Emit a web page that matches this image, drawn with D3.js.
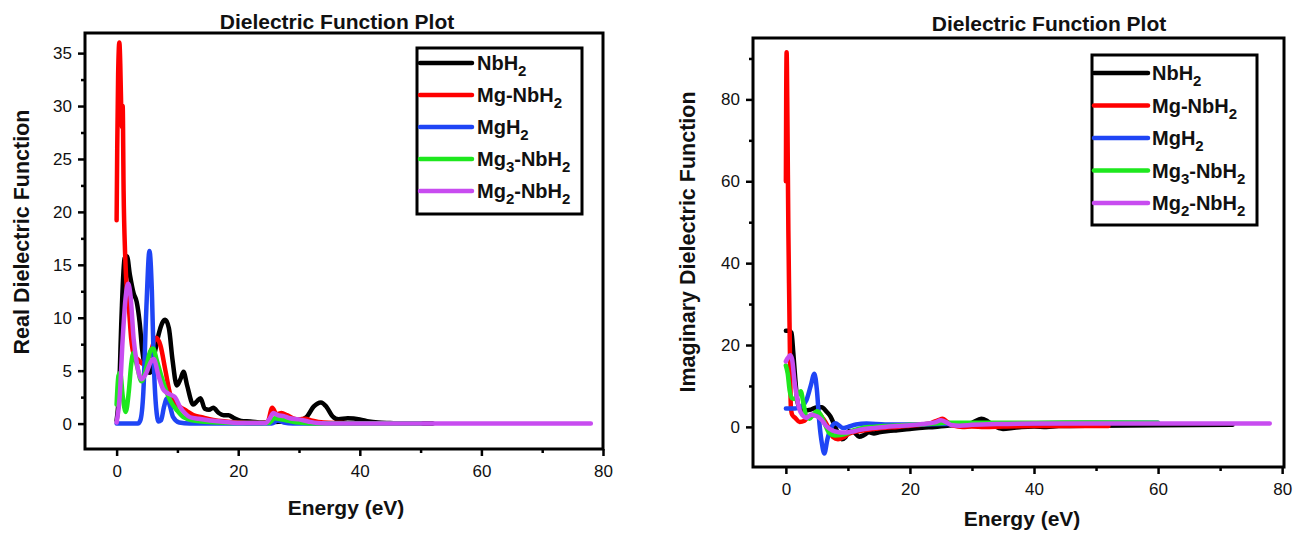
<!DOCTYPE html>
<html>
<head>
<meta charset="utf-8">
<script src="https://cdn.jsdelivr.net/npm/d3@7"></script>
<style>
  body { margin: 0; background: #fff; }
  svg { display: block; font-family: "Liberation Sans", Arial, sans-serif; }
</style>
</head>
<body>
<svg width="1296" height="533"></svg>
<script>
const seriesNames = ["NbH2", "Mg-NbH2", "MgH2", "Mg3-NbH2", "Mg2-NbH2"];
const seriesColors = ["#000000", "#ff0000", "#1f45f5", "#1ee81e", "#c84cf0"];

const xTicks = [0, 20, 40, 60, 80];
const xMinorTicks = [10, 30, 50, 70];
const realTicks = [0, 5, 10, 15, 20, 25, 30, 35];
const realMinorTicks = [2.5, 7.5, 12.5, 17.5, 22.5, 27.5, 32.5];
const imagTicks = [0, 20, 40, 60, 80];
const imagMinorTicks = [10, 30, 50, 70, 90];

// real part, [energy, value]
const realNbH2 = [[0,0.3],[0.4,3],[0.8,10],[1.3,15.6],[1.7,15.8],[2.2,14],[2.8,12.3],[3.3,11.5],[3.8,9.5],[4.2,7],[4.8,5.2],[5.5,4.8],[6.2,6.5],[6.9,8.4],[7.5,9.5],[8.0,9.8],[8.6,9],[9.2,6],[9.9,3.6],[10.5,4.2],[11.0,4.9],[11.6,3.6],[12.6,1.8],[13.2,2.1],[13.8,2.4],[14.5,1.4],[15.2,1.3],[15.9,1.5],[16.8,1.0],[17.6,0.8],[18.4,0.8],[19.2,0.55],[20.5,0.25],[22,0.2],[24,0.1],[26,0.15],[28,0.2],[30,0.3],[31.2,0.6],[32.4,1.6],[33.6,2.0],[34.5,1.6],[35.5,0.7],[36.5,0.4],[38,0.5],[40,0.4],[41.5,0.2],[43,0.1],[45,0.05],[48,0],[52,0]];
const realMgNbH2 = [[0,19.2],[0.1,26],[0.25,33],[0.45,36],[0.6,34],[0.75,30],[0.9,28],[1.0,30],[1.15,22],[1.4,16],[1.7,12.5],[2.0,11],[2.4,8],[2.8,6.6],[3.6,6],[4.5,5.6],[5.5,6.6],[6.5,8.1],[7.2,7.4],[8.0,5.1],[8.8,2.8],[9.6,2.0],[10.4,1.6],[11.5,1.2],[12.6,0.8],[14,0.6],[15.9,0.35],[18,0.2],[20,0.1],[23,0.05],[24.8,0.1],[25.6,1.5],[26.3,0.9],[27.1,1.0],[28,0.8],[29,0.5],[30,0.4],[31,0.45],[32,0.3],[34,0.1],[37,0.05],[40,0],[46,0]];
const realMgH2 = [[0,0],[3.5,0],[3.9,0.3],[4.4,3],[4.9,11],[5.4,16.3],[5.8,12.5],[6.1,6],[6.5,1.5],[6.9,0.2],[7.3,0.3],[7.8,1.6],[8.3,2.4],[8.8,1.6],[9.3,0.6],[10.3,0.1],[12,0],[25.5,0],[26.5,0.3],[27.5,0.1],[29,0],[50,0]];
const realMg3NbH2 = [[0,1.8],[0.3,4.5],[0.6,4.8],[1.0,2.6],[1.5,1.1],[2.0,3],[2.4,5.6],[2.8,6.7],[3.3,5.6],[4.1,4.0],[4.8,5.1],[5.5,6.8],[6.0,7.1],[6.6,6],[7.4,4.4],[8.8,2.2],[10,1.2],[11,0.6],[12.5,0.3],[14,0.2],[17,0.1],[20,0.05],[25,0.05],[26,0.5],[27,0.4],[28,0.3],[30,0.1],[33,0],[50,0]];
const realMg2NbH2 = [[0,0.1],[0.5,2.5],[1.0,8],[1.5,12],[1.9,13.2],[2.3,12],[2.8,8],[3.3,5.8],[4.1,4.2],[4.9,4.8],[5.6,5.8],[6.1,6.1],[6.9,4.5],[7.6,3.3],[8.3,2.9],[9.0,2.7],[9.6,2.5],[10.4,1.6],[11.2,1.0],[12.1,0.6],[13.5,0.45],[15.4,0.3],[18,0.15],[21,0.05],[24.5,0.05],[25.2,0.5],[25.8,1.0],[26.5,0.8],[27.5,0.7],[28.5,0.5],[30,0.4],[31.5,0.2],[33,0.05],[36,0],[78,0]];

// imaginary part, [energy, value]
const imagNbH2 = [[0,23.5],[0.5,23.5],[0.9,23],[1.2,18],[1.5,12],[1.8,7],[2.2,4.5],[3,4],[4,4.2],[5,4.8],[5.8,4.8],[6.5,3.8],[7.2,2.5],[7.8,0.5],[8.4,-1.5],[9,-3],[9.6,-2.5],[10.2,-1],[11,-1.3],[11.8,-2.4],[12.6,-2],[13.4,-1.3],[14.2,-1.6],[15,-1.3],[16.5,-1.0],[18,-0.8],[20,-0.5],[22,-0.2],[24,0],[26,0.3],[28,0.5],[30,1.0],[31.5,2.0],[32.5,1.4],[33.5,0.3],[35,-0.5],[36.5,-0.3],[38,0],[40,0.1],[42,0],[44,0.2],[50,0.3],[60,0.4],[72,0.5]];
const imagMgNbH2 = [[0,60],[0.05,80],[0.12,91.5],[0.25,75],[0.4,48],[0.55,30],[0.68,15],[0.8,5],[1.0,3],[1.5,2.2],[2.2,1.2],[3,1.5],[3.6,2.5],[4.5,2.8],[5.3,3.2],[6,2],[6.8,0],[7.6,-2.5],[8.4,-3],[9.2,-2.6],[10,-1.8],[11,-1.2],[12,-1],[14,-0.5],[16,-0.2],[18,0],[20,0.3],[22,0.6],[23.5,1],[24.5,1.6],[25.3,2.0],[26,1.2],[27,0.3],[28.5,0],[30,0.1],[32,0],[35,0.1],[40,0.2],[45,0.2],[52,0.2]];
const imagMgH2 = [[0,4.5],[1.5,4.5],[2.5,5],[3.3,6.5],[4.0,10],[4.6,13],[5.0,9],[5.4,1],[5.8,-4],[6.2,-6.5],[6.7,-3],[7.2,-0.5],[8.0,0.9],[8.6,0.3],[9.2,-0.3],[10,0],[11.3,0.6],[13,0.8],[16,0.6],[20,0.6],[25,0.7],[30,0.8],[40,0.9],[50,1.0],[60,1.0]];
const imagMg3NbH2 = [[0,15],[0.3,13],[0.6,9],[1.0,7],[1.5,6.8],[2.0,8],[2.4,8.7],[2.8,6],[3.3,2.5],[3.8,2],[4.4,3],[5.0,3.8],[5.6,3],[6.2,1],[7.0,-1.5],[7.9,-2.1],[8.8,-2.0],[10,-1.5],[11,-0.8],[12.5,-0.2],[14,0],[16,0.2],[20,0.5],[24,0.8],[26,1.0],[30,1.0],[40,1.0],[50,1.1],[60,1.0]];
const imagMg2NbH2 = [[0,16],[0.3,16.8],[0.7,17.5],[1.0,16.5],[1.4,11],[1.8,7],[2.2,4.2],[2.7,2.8],[3.3,2.2],[3.7,2.6],[4.1,3.0],[4.6,2.8],[5.0,2.6],[5.7,1.8],[6.5,0.2],[7.5,-0.9],[8.5,-1.3],[9.5,-1.4],[10.5,-1.2],[12,-0.7],[14,-0.3],[16,0],[18,0.2],[20,0.4],[22,0.7],[24,1.1],[25,1.6],[25.8,1.2],[26.6,0.5],[28,0.3],[30,0.5],[34,0.7],[40,0.8],[50,0.8],[60,0.8],[70,0.8],[78,0.8]];

const panels = [
  {
    series: [realNbH2, realMgNbH2, realMgH2, realMg3NbH2, realMg2NbH2],
    left: 85, right: 603, top: 33, bottom: 449,
    xDomain: [-5.2, 80], yDomain: [-2.4, 36.9],
    yTicks: realTicks, yMinor: realMinorTicks,
    title: "Dielectric Function Plot", titleX: 337, titleY: 29,
    yLabel: "Real Dielectric Function", yLabelX: 29, yLabelY: 232,
    xLabelX: 346, xLabelY: 515,
    legend: { x: 417, y: 48, w: 165, h: 166, lineX0: 420, lineX1: 472, textX: 477, rowY: 63, step: 32 }
  },
  {
    series: [imagNbH2, imagMgNbH2, imagMgH2, imagMg3NbH2, imagMg2NbH2],
    left: 753, right: 1284, top: 38, bottom: 467,
    xDomain: [-5.3, 80.3], yDomain: [-9.8, 95],
    yTicks: imagTicks, yMinor: imagMinorTicks,
    title: "Dielectric Function Plot", titleX: 1049, titleY: 31,
    yLabel: "Imaginary Dielectric Function", yLabelX: 695, yLabelY: 242,
    xLabelX: 1022, xLabelY: 526,
    legend: { x: 1092, y: 55, w: 165, h: 170, lineX0: 1094, lineX1: 1148, textX: 1152, rowY: 73, step: 32.5 }
  }
];

const svg = d3.select("svg");
svg.append("rect").attr("width", 1296).attr("height", 533).attr("fill", "#fff");

function styleAxis(g) {
  g.select(".domain").remove();
  g.selectAll(".tick line").attr("stroke", "#000").attr("stroke-width", 2.5);
  g.selectAll(".tick text").attr("fill", "#111").style("font-size", "17px");
}

function addLabel(sel, name) {
  // digits become subscripts
  const parts = name.split(/(\d)/).filter(p => p !== "");
  let shifted = false;
  parts.forEach(p => {
    const isSub = /^\d$/.test(p);
    const t = sel.append("tspan").text(p);
    if (isSub) {
      t.attr("dy", 6).style("font-size", "15px");
      shifted = true;
    } else if (shifted) {
      t.attr("dy", -6);
      shifted = false;
    }
  });
}

function drawPanel(p) {
  const g = svg.append("g");
  const x = d3.scaleLinear().domain(p.xDomain).range([p.left, p.right]);
  const y = d3.scaleLinear().domain(p.yDomain).range([p.bottom, p.top]);

  // axes
  g.append("g").attr("transform", `translate(0,${p.bottom})`)
    .call(d3.axisBottom(x).tickValues(xMinorTicks).tickSize(4).tickFormat(""))
    .call(styleAxis);
  g.append("g").attr("transform", `translate(0,${p.bottom})`)
    .call(d3.axisBottom(x).tickValues(xTicks).tickSize(7).tickPadding(9))
    .call(styleAxis);
  g.append("g").attr("transform", `translate(${p.left},0)`)
    .call(d3.axisLeft(y).tickValues(p.yMinor).tickSize(4).tickFormat(""))
    .call(styleAxis);
  g.append("g").attr("transform", `translate(${p.left},0)`)
    .call(d3.axisLeft(y).tickValues(p.yTicks).tickSize(7).tickPadding(6))
    .call(styleAxis);

  const line = d3.line()
    .x(d => x(d[0]))
    .y(d => y(d[1]))
    .curve(d3.curveMonotoneX);

  g.selectAll(".series")
    .data(p.series)
    .join("path")
    .attr("class", "series")
    .attr("d", line)
    .attr("fill", "none")
    .attr("stroke", (d, i) => seriesColors[i])
    .attr("stroke-width", 4.5)
    .attr("stroke-linejoin", "round")
    .attr("stroke-linecap", "round");

  g.append("rect")
    .attr("x", p.left).attr("y", p.top)
    .attr("width", p.right - p.left).attr("height", p.bottom - p.top)
    .attr("fill", "none").attr("stroke", "#000").attr("stroke-width", 3);

  // titles
  g.append("text").attr("x", p.titleX).attr("y", p.titleY)
    .attr("text-anchor", "middle").style("font-size", "21px").style("font-weight", "bold")
    .attr("fill", "#111").text(p.title);
  g.append("text").attr("transform", `translate(${p.yLabelX},${p.yLabelY}) rotate(-90)`)
    .attr("text-anchor", "middle").style("font-size", "21.5px").style("font-weight", "bold")
    .attr("fill", "#111").text(p.yLabel);
  g.append("text").attr("x", p.xLabelX).attr("y", p.xLabelY)
    .attr("text-anchor", "middle").style("font-size", "21px").style("font-weight", "bold")
    .attr("fill", "#111").text("Energy (eV)");

  // legend
  const L = p.legend;
  g.append("rect").attr("x", L.x).attr("y", L.y).attr("width", L.w).attr("height", L.h)
    .attr("fill", "#fff").attr("stroke", "#000").attr("stroke-width", 3);
  seriesNames.forEach((name, i) => {
    const ry = L.rowY + i * L.step;
    g.append("line").attr("x1", L.lineX0).attr("x2", L.lineX1).attr("y1", ry).attr("y2", ry)
      .attr("stroke", seriesColors[i]).attr("stroke-width", 4.5).attr("stroke-linecap", "round");
    const t = g.append("text").attr("x", L.textX).attr("y", ry + 7)
      .style("font-size", "20px").style("font-weight", "bold").attr("fill", "#111");
    addLabel(t, name);
  });
}

panels.forEach(drawPanel);
</script>
</body>
</html>
